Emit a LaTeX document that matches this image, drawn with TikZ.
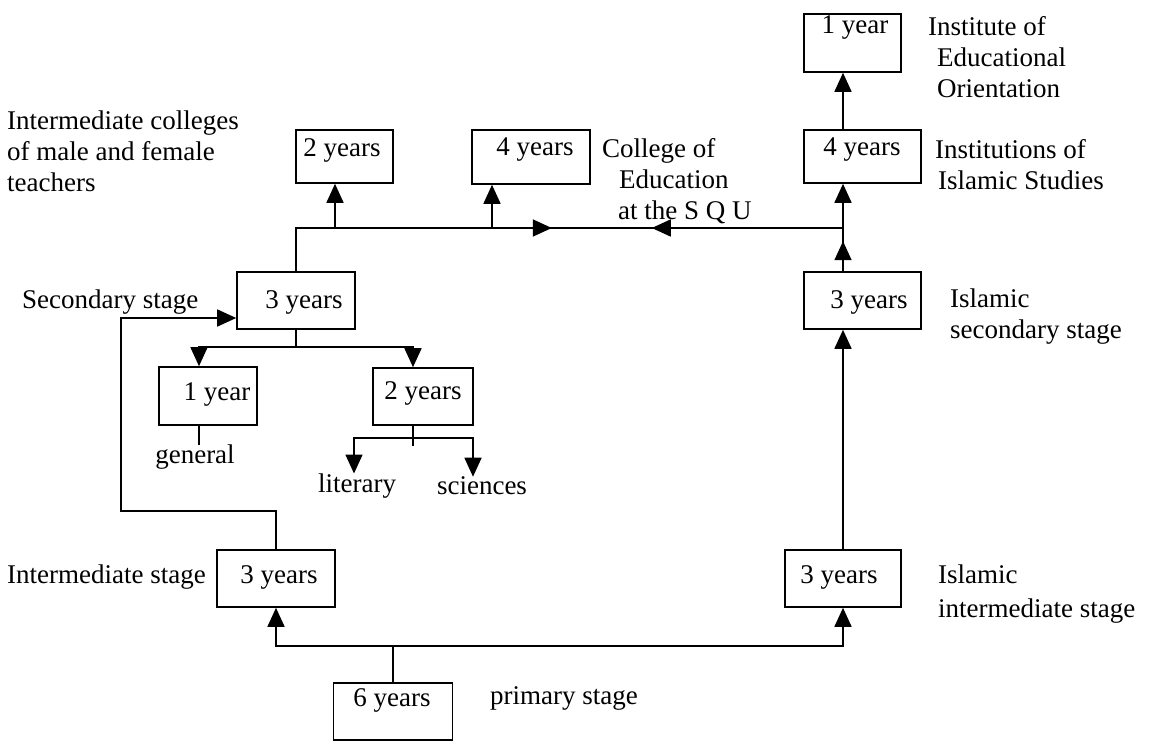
\documentclass[tikz,border=0pt]{standalone}
\usepackage{fontspec}
\setmainfont{Liberation Serif}
\usetikzlibrary{arrows.meta,decorations.markings}
\begin{document}
\begin{tikzpicture}[x=1pt,y=-1pt,
  every node/.style={font=\fontsize{27}{31}\selectfont},
  yrbox/.style={draw, line width=1.6pt, inner sep=0pt},
  lbl/.style={inner sep=0pt},
  txt/.style={inner sep=0pt, align=left},
  conn/.style={line width=1.6pt},
  arr/.style={conn, -{Triangle[width=17pt,length=19pt]}},
  midup/.style={postaction={decorate}, decoration={markings,
    mark=at position #1 with {\arrow{Triangle[width=17pt,length=19pt]}}}},
  mainmarks/.style={postaction={decorate}, decoration={markings,
    mark=at position 299pt with {\arrow{Triangle[width=17pt,length=19pt]}},
    mark=at position 399pt with {\arrowreversed{Triangle[width=17pt,length=19pt]}}}}
]
\useasboundingbox (0,0) rectangle (1156,741);

% duration boxes
\node[yrbox, minimum width=97pt, minimum height=58pt,
  label={[lbl,xshift=2.5pt,yshift=15pt]center:1 year}] (iedu) at (852.5,43) {};
\node[yrbox, minimum width=117pt, minimum height=53pt,
  label={[lbl,xshift=-0.5pt,yshift=6.5pt]center:4 years}] (b4r) at (862.5,156.5) {};
\node[yrbox, minimum width=97pt, minimum height=53pt,
  label={[lbl,xshift=-2.5pt,yshift=6.5pt]center:2 years}] (b2) at (344.5,156.5) {};
\node[yrbox, minimum width=118pt, minimum height=54pt,
  label={[lbl,xshift=4pt,yshift=7pt]center:4 years}] (b4) at (531,157) {};
\node[yrbox, minimum width=117pt, minimum height=57pt,
  label={[lbl,xshift=6.5pt,yshift=-1.5pt]center:3 years}] (isec) at (862.5,300.5) {};
\node[yrbox, minimum width=118pt, minimum height=57pt,
  label={[lbl,xshift=8pt,yshift=-1.5pt]center:3 years}] (sec) at (296,300.5) {};
\node[yrbox, minimum width=98pt, minimum height=58pt,
  label={[lbl,xshift=9pt,yshift=2pt]center:1 year}] (g1) at (208,396) {};
\node[yrbox, minimum width=100pt, minimum height=57pt,
  label={[lbl,xshift=0pt,yshift=3.5pt]center:2 years}] (g2) at (423,396.5) {};
\node[yrbox, minimum width=118pt, minimum height=57pt,
  label={[lbl,xshift=3pt,yshift=1.5pt]center:3 years}] (im) at (276,578.5) {};
\node[yrbox, minimum width=116pt, minimum height=57pt,
  label={[lbl,xshift=-4pt,yshift=1.5pt]center:3 years}] (iim) at (843,578.5) {};
\node[yrbox, minimum width=119pt, minimum height=57pt,
  label={[lbl,xshift=-1pt,yshift=11.5pt]center:6 years}] (p6) at (393,711.5) {};

% captions
\node[txt, anchor=west] (tcol) at (7,151) {Intermediate colleges\\of male and female\\teachers};
\node[txt, anchor=west] (tcoe) at (602,181) {College of\\\hspace*{17pt}Education\\\hspace*{16pt}at the S Q U};
\node[txt, anchor=west] (tieo) at (928,57) {Institute of\\\hspace*{9pt}Educational\\\hspace*{9pt}Orientation};
\node[txt, anchor=west] (tiis) at (935,165) {Institutions of\\\hspace*{3pt}Islamic Studies};
\node[txt, anchor=west] (tiss) at (950,317) {Islamic\\secondary stage};
\node[txt, anchor=west] (tiim) at (938,594) {Islamic\\[3pt]intermediate stage};
\node[txt, anchor=west] (tsec) at (22,302) {Secondary stage};
\node[txt, anchor=west] (tint) at (7,577) {Intermediate stage};
\node[txt, anchor=west] (tpri) at (490,698) {primary stage};
\node[txt] (tgen) at (195,457) {general};
\node[txt] (tlit) at (357,486) {literary};
\node[txt] (tsci) at (482,486) {sciences};

% primary stage splits into the two intermediate stages
\coordinate (jp) at (393,646);
\draw[conn] (p6.north) -- (jp);
\draw[arr] (jp) -| (im.south);
\draw[arr] (jp) -| (iim.south);

% intermediate stage leads to secondary stage
\coordinate (bendA) at (121,511);
\draw[arr] (im.north) |- (bendA) |- ([yshift=-17.5pt]sec.west);

% main horizontal line towards the colleges
\coordinate (jr) at (843,228);
\draw[conn, mainmarks] (sec.north) |- (jr);
\coordinate (a2) at ([xshift=-9.5pt]b2.south);
\coordinate (a4m) at ([xshift=-39pt]b4.south);
\draw[arr] (a2 |- jr) -- (a2);
\draw[arr] (a4m |- jr) -- (a4m);

% Islamic column
\draw[arr] (iim.north) -- (iim.north |- isec.south);
\draw[arr, midup=30pt] (iim.north |- isec.north) -- (iim.north |- b4r.south);
\draw[arr] (iim.north |- b4r.north) -- (iim.north |- iedu.south);

% secondary branches
\coordinate (js) at (296,347);
\draw[conn] (sec.south) -- (js);
\coordinate (a3) at ([xshift=-9pt]g1.north);
\coordinate (a5) at ([xshift=-10pt]g2.north);
\draw[arr] (js) -| (a3);
\draw[arr] (js) -| (a5);
\draw[conn] ([xshift=-9pt]g1.south) -- ++(0,19);
\draw[conn] ([xshift=-10pt]g2.south) -- ++(0,20);
\coordinate (jl) at (413,438);
\coordinate (a6) at ([xshift=-3pt]tlit.north);
\coordinate (a7) at ([xshift=-9pt]tsci.north);
\draw[arr] (jl) -| (a6);
\draw[arr] (jl) -| (a7);
\end{tikzpicture}
\end{document}
